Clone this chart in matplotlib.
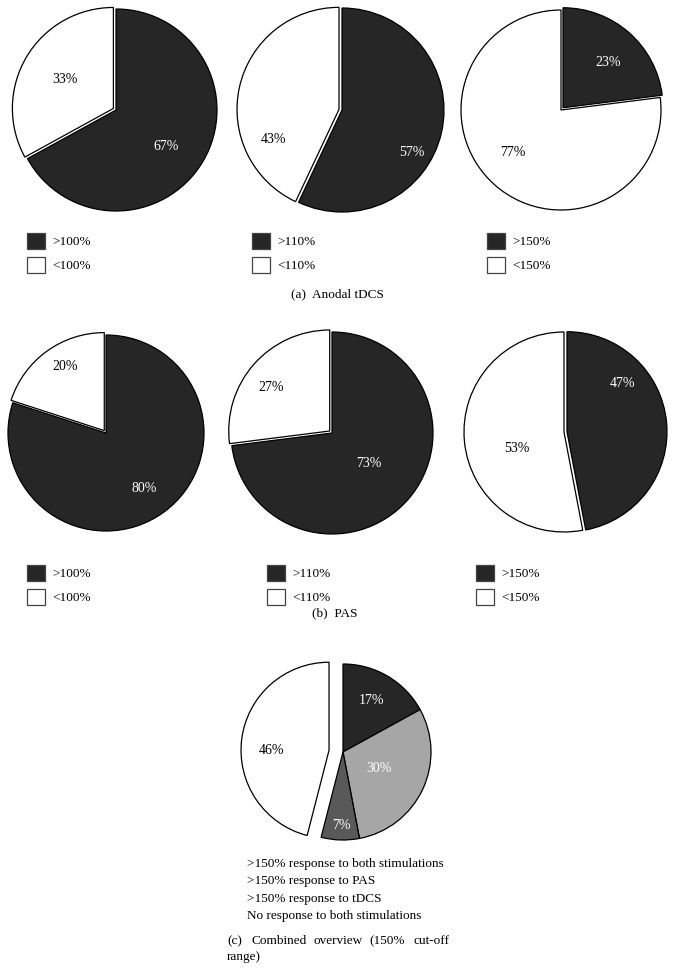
import matplotlib
matplotlib.use("Agg")
import matplotlib.pyplot as plt

plt.rcParams['font.family'] = ['Liberation Serif', 'DejaVu Serif']

# data
tdcs_vals = [[67, 33], [57, 43], [23, 77]]
tdcs_cuts = ['100%', '110%', '150%']
pas_vals = [[80, 20], [73, 27], [47, 53]]
pas_cuts = ['100%', '110%', '150%']
combined_vals = [17, 30, 7, 46]
combined_labels = ['>150% response to both stimulations',
                   '>150% response to PAS',
                   '>150% response to tDCS',
                   'No response to both stimulations']

DARK = '#262626'
two_colors = [DARK, 'white']
four_colors = [DARK, '#a6a6a6', '#595959', 'white']

# layout (pixels)
W, H = 674, 971
pie_a = [(116, 110, 101), (342, 110, 102), (561, 110, 100)]
pie_b = [(106, 433, 98), (332, 433, 101), (564, 432, 100)]
pie_c = (343, 752, 88)
lab_a = [[(0.50, -0.36), (-0.51, 0.30)], [(0.68, -0.42), (-0.67, -0.29)],
         [(0.47, 0.47), (-0.48, -0.43)]]
lab_b = [[(0.39, -0.57), (-0.42, 0.68)], [(0.36, -0.30), (-0.60, 0.45)],
         [(0.58, 0.49), (-0.47, -0.16)]]
lab_c = [(0.32, 0.59), (0.41, -0.19), (-0.02, -0.83), (-0.81, 0.02)]
leg_a = [(27, 233), (252, 233), (487, 233)]
leg_b = [(27, 565), (267, 565), (476, 565)]

fig = plt.figure(figsize=(W / 100, H / 100), dpi=100)


def pie_axes(cx, cy, r, pad=1.12):
    ax = fig.add_axes([(cx - r * pad) / W, 1 - (cy + r * pad) / H,
                       2 * r * pad / W, 2 * r * pad / H])
    ax.axis('off')
    return ax, pad


def draw_pie(ax, pad, vals, colors, offsets, text_colors):
    small = vals.index(min(vals)) if len(vals) == 2 else len(vals) - 1
    explode = [0.0] * len(vals)
    explode[small] = 0.03 if len(vals) == 2 else 0.16
    wedges, texts, autotexts = ax.pie(
        vals, colors=colors, startangle=90, counterclock=False,
        explode=explode, autopct=lambda p: '%d%%' % round(p), radius=1,
        wedgeprops=dict(edgecolor='black', linewidth=0.9),
        textprops=dict(fontsize=10))
    ax.set_xlim(-pad, pad)
    ax.set_ylim(-pad, pad)
    ax.set_aspect('auto')
    for t, (dx, dy), tc in zip(autotexts, offsets, text_colors):
        t.set_position((dx, dy))
        t.set_color(tc)
        t.set_ha('center')
        t.set_va('center')
    return wedges


def draw_legend(ax, wedges, labels, x, y):
    leg = ax.legend(wedges, labels, loc='upper left',
                    bbox_to_anchor=(x / W, 1 - y / H),
                    bbox_transform=fig.transFigure, frameon=False,
                    fontsize=9.5, borderpad=0, borderaxespad=0,
                    handlelength=1.35, handleheight=1.45,
                    handletextpad=0.6, labelspacing=0.62)
    for h in leg.legend_handles:
        h.set_linewidth(0.9)
        h.set_edgecolor('#444444')
    return leg


for (cx, cy, r), vals, offs, cut, lpos in zip(pie_a, tdcs_vals, lab_a, tdcs_cuts, leg_a):
    ax, pad = pie_axes(cx, cy, r)
    w = draw_pie(ax, pad, vals, two_colors, offs, ['white', 'black'])
    draw_legend(ax, w, ['>' + cut, '<' + cut], *lpos)

for (cx, cy, r), vals, offs, cut, lpos in zip(pie_b, pas_vals, lab_b, pas_cuts, leg_b):
    ax, pad = pie_axes(cx, cy, r)
    w = draw_pie(ax, pad, vals, two_colors, offs, ['white', 'black'])
    draw_legend(ax, w, ['>' + cut, '<' + cut], *lpos)

ax, pad = pie_axes(*pie_c, pad=1.3)
w = draw_pie(ax, pad, combined_vals, four_colors, lab_c, ['white', 'white', 'white', 'black'])
leg = ax.legend(w, combined_labels, loc='upper left',
                bbox_to_anchor=(247 / W, 1 - 858 / H),
                bbox_transform=fig.transFigure, frameon=False,
                fontsize=9.5, borderpad=0, borderaxespad=0,
                handlelength=0, handletextpad=0, labelspacing=0.38)
for h in leg.legend_handles:
    h.set_visible(False)

# captions
fig.text(337 / W, 1 - 294 / H, '(a)  Anodal tDCS', ha='center', va='center', fontsize=9.5)
fig.text(335 / W, 1 - 613 / H, '(b)  PAS', ha='center', va='center', fontsize=9.5)
cap_words = ['(c)', 'Combined', 'overview', '(150%', 'cut-off']
cap_x = [227, 251, 313, 369, 414]
for wd, xx in zip(cap_words, cap_x):
    fig.text(xx / W, 1 - 941 / H, wd, ha='left', va='center', fontsize=9.5)
fig.text(227 / W, 1 - 957 / H, 'range)', ha='left', va='center', fontsize=9.5)

fig.savefig('out.png', dpi=100, facecolor='white')
